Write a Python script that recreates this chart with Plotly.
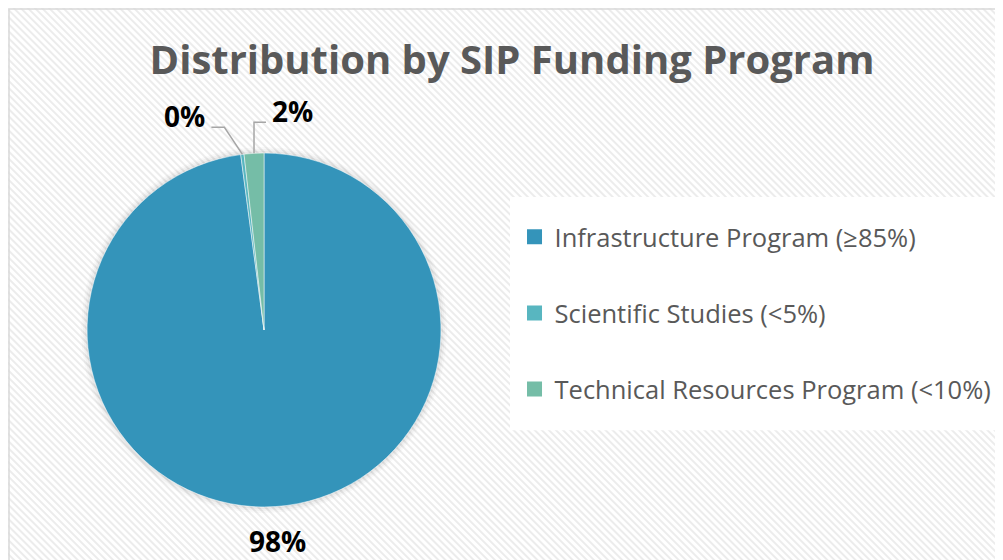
import base64
import math
import plotly.graph_objects as go

# data
programs = ["Infrastructure Program (≥85%)", "Scientific Studies (<5%)", "Technical Resources Program (<10%)"]
shares = [97.9, 0.3, 1.8]
colors = ["#3494BA", "#58B6C0", "#75BDA7"]

W, H = 1003, 560
pie_x = [0.0788, 0.4317]
pie_y = [0.109, 0.741]

# striped background (diagonal hatch like the Office chart style)
svg = (
    f'<svg xmlns="http://www.w3.org/2000/svg" width="{W}" height="{H}">'
    '<defs><pattern id="p" width="5" height="5" patternUnits="userSpaceOnUse" patternTransform="rotate(45)">'
    '<rect width="5" height="5" fill="#ffffff"/><rect width="5" height="2" fill="#ececec"/></pattern></defs>'
    f'<rect width="{W}" height="{H}" fill="url(#p)"/></svg>'
)
bg_uri = "data:image/svg+xml;base64," + base64.b64encode(svg.encode()).decode()

fig = go.Figure()

fig.add_trace(go.Pie(
    labels=programs,
    values=shares,
    sort=False,
    direction="clockwise",
    rotation=0,
    marker=dict(colors=colors, line=dict(color="white", width=0.5)),
    textinfo="none",
    showlegend=False,
    automargin=False,
    domain=dict(x=pie_x, y=pie_y),
    hoverinfo="label+percent",
))

# legend entries as separate traces so the gaps between them can be set
for name, col in zip(programs, colors):
    fig.add_trace(go.Scatter(
        x=[None], y=[None], mode="markers", name=name, legendgroup=name,
        marker=dict(symbol="square", size=15, color=col),
    ))

# --- data labels with leader lines (positions derived from the slice angles) ---
cx = sum(pie_x) / 2 * W
cy = (1 - sum(pie_y) / 2) * H
r = (pie_y[1] - pie_y[0]) * H / 2
total = sum(shares)


def px(x, y):
    return x / W, 1 - y / H


def on_circle(angle_deg, rad):
    a = math.radians(angle_deg)
    return cx + rad * math.sin(a), cy - rad * math.cos(a)


shapes = []
annotations = []
lbl_font = dict(family="Open Sans", size=28, color="black", weight="bold")
line_style = dict(color="#a6a6a6", width=1.5)
start = 0.0
for i, v in enumerate(shares):
    mid = (start + v / 2) / total * 360
    start += v
    text = f"{round(100 * v / total)}%"
    if v / total > 0.5:
        tx, ty = on_circle(mid, r + 35)
        x, y = px(tx, ty)
        annotations.append(dict(x=x, y=y, xref="paper", yref="paper", text=text, showarrow=False,
                                font=lbl_font, xanchor="center", yanchor="middle"))
        continue
    p0 = on_circle(mid, r)
    if i == 2:
        # elbow: straight up, then to the right
        p1 = (p0[0], p0[1] - 31)
        p2 = (p1[0] + 12, p1[1])
        tx, xa = p2[0] + 4, "left"
    else:
        # elbow: up-left, then to the left
        p1 = (p0[0] - 18, p0[1] - 27)
        p2 = (p1[0] - 13, p1[1])
        tx, xa = p2[0] - 4, "right"
    pts = [px(*p) for p in (p0, p1, p2)]
    path = "M {} {} L {} {} L {} {}".format(*[c for p in pts for c in p])
    shapes.append(dict(type="path", xref="paper", yref="paper", path=path, line=line_style))
    x, y = px(tx, p2[1] - 11)
    annotations.append(dict(x=x, y=y, xref="paper", yref="paper", text=text, showarrow=False,
                            font=lbl_font, xanchor=xa, yanchor="middle"))

# soft shadow around the pie
for k, a in [(6, 0.025), (4, 0.03), (2, 0.04)]:
    x0, y0 = px(cx - r - k, cy + r + k)
    x1, y1 = px(cx + r + k, cy - r - k)
    shapes.insert(0, dict(type="circle", xref="paper", yref="paper", x0=x0, y0=y0, x1=x1, y1=y1,
                          fillcolor=f"rgba(0,0,0,{a})", line=dict(width=0), layer="below"))

# white legend panel and outer chart border
shapes.insert(0, dict(type="rect", xref="paper", yref="paper", x0=0.5005, x1=1.0, y0=0.246, y1=0.6625,
                      fillcolor="white", line=dict(width=0), layer="below"))
shapes.append(dict(type="rect", xref="paper", yref="paper", x0=0.001, x1=1.02, y0=-0.02, y1=0.998,
                   fillcolor="rgba(0,0,0,0)", line=dict(color="#d9d9d9", width=1.5)))

fig.update_layout(
    width=W, height=H,
    margin=dict(l=0, r=0, t=0, b=0, autoexpand=False),
    paper_bgcolor="white",
    plot_bgcolor="rgba(0,0,0,0)",
    title=dict(
        text="<b>Distribution by SIP Funding Program</b>",
        x=0.5025, xanchor="center", y=0.907, yanchor="middle",
        font=dict(family="Open Sans", size=40, color="#595959"),
    ),
    xaxis=dict(visible=False),
    yaxis=dict(visible=False),
    legend=dict(
        x=0.505, y=0.455, xanchor="left", yanchor="middle",
        bgcolor="rgba(0,0,0,0)",
        font=dict(family="Open Sans", size=25.5, color="#595959"),
        tracegroupgap=40,
        itemclick=False, itemdoubleclick=False,
    ),
    images=[dict(source=bg_uri, xref="paper", yref="paper", x=0, y=1,
                 sizex=1, sizey=1, sizing="stretch", layer="below")],
    shapes=shapes,
    annotations=annotations,
)

fig.write_html("out.html")
